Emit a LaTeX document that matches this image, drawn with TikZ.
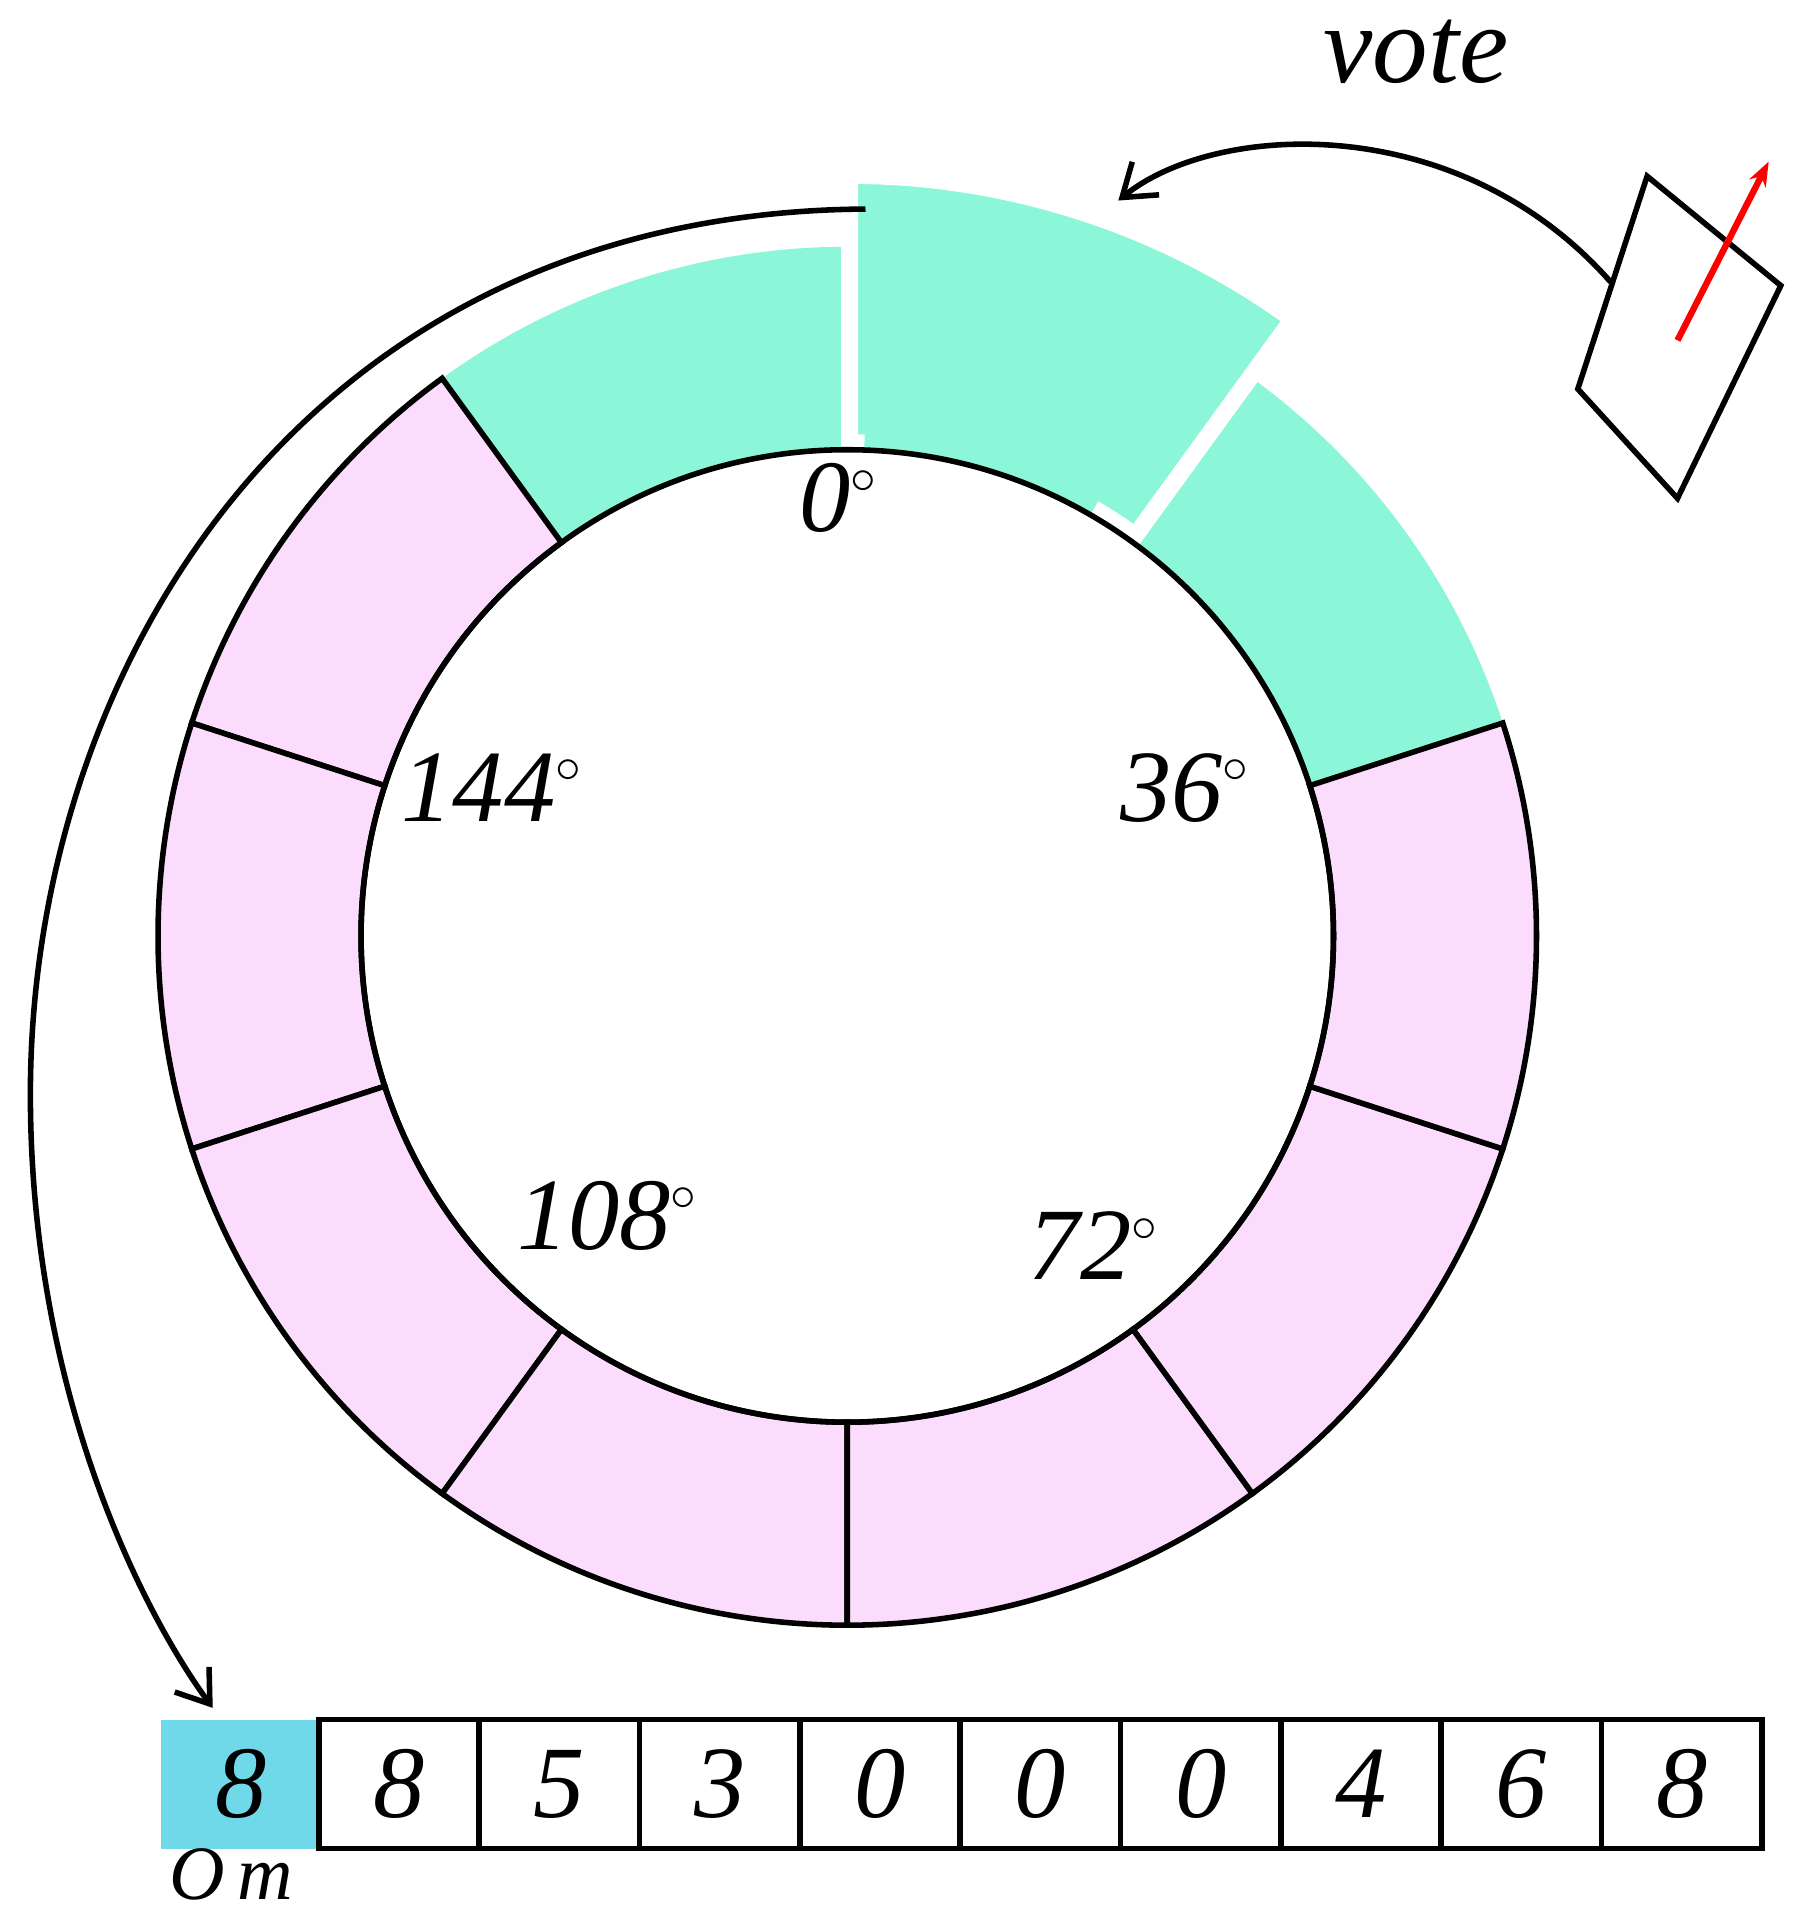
\documentclass[tikz,border=0pt]{standalone}
\usepackage{fontspec}
\setmainfont{Liberation Serif}
\usetikzlibrary{calc,arrows.meta}
\definecolor{gr}{HTML}{8CF7D8}
\definecolor{pk}{HTML}{FCDCFC}
\definecolor{cy}{HTML}{6FD9EA}
\newcommand{\dg}{$^{\scriptscriptstyle\circ}$}
\tikzset{lbl/.style={font=\fontsize{24}{28}\selectfont\itshape,inner sep=0},
  lw/.style={line width=1.3pt},
  cell/.style={draw,lw,minimum width=1.319cm,minimum height=1.06cm,anchor=south west,inner sep=0,font=\fontsize{24}{28}\selectfont\itshape}}
\begin{document}
\begin{tikzpicture}
\useasboundingbox (0,0) rectangle (14.9,15.68);
\coordinate (C) at (6.97,7.98);
\def\ri{4}\def\ro{5.67}
% green
\fill[gr] ($(C)+(90:\ri)$) arc[start angle=90,end angle=126,radius=\ri] -- ($(C)+(126:\ro)$) arc[start angle=126,end angle=90,radius=\ro] -- cycle;
\fill[gr] ($(C)+(18:\ri)$) arc[start angle=18,end angle=54,radius=\ri] -- ($(C)+(54:\ro)$) arc[start angle=54,end angle=18,radius=\ro] -- cycle;
\filldraw[gr,draw=white,line width=0.14cm] ($(C)+(72:0.06)+(54:\ri)$) arc[start angle=54,end angle=90,radius=\ri] -- ($(C)+(72:0.06)+(90:6.2)$) arc[start angle=90,end angle=54,radius=6.2] -- cycle;
\fill[gr] ($(C)+(60:\ri)$) arc[start angle=60,end angle=88,radius=\ri] -- ($(C)+(88:4.2)$) arc[start angle=88,end angle=60,radius=4.2] -- cycle;
% pink
\foreach \k in {1,...,7}{
  \pgfmathsetmacro{\a}{90+36*\k}\pgfmathsetmacro{\b}{126+36*\k}
  \filldraw[fill=pk,draw=black,lw] ($(C)+(\a:\ri)$) arc[start angle=\a,end angle=\b,radius=\ri] -- ($(C)+(\b:\ro)$) arc[start angle=\b,end angle=\a,radius=\ro] -- cycle;}
\draw[lw] (C) circle[radius=\ri];
\node[lbl] (l0) at (6.9,11.58) {0\dg};
\node[lbl] (l36) at (9.75,9.2) {36\dg};
\node[lbl] (l72) at (9.0,5.43) {72\dg};
\node[lbl] (l108) at (5.0,5.68) {108\dg};
\node[lbl] (l144) at (4.05,9.2) {144\dg};
% array
\node[cell,fill=cy,draw=none] (c0) at (1.3,0.45) {8};
\foreach \v [count=\i] in {8,5,3,0,0,0,4,6,8}{
  \node[cell] (c\i) at ({2.6+1.319*(\i-1)},0.45) {\v};}
\node[lbl,font=\fontsize{18}{20}\selectfont\itshape,anchor=south] (om) at (1.9,0.04) {O\,m};
% arrows
\coordinate (s) at (7.12,13.96);
\draw[lw,-{Straight Barb[length=0.25cm,width=0.35cm]}] (s) .. controls (2.5,13.93) and (0.25,10.18) .. (0.25,6.68) .. controls (0.25,4.18) and (1.2,2.38) .. (1.75,1.63);
\node[lbl,font=\fontsize{26}{30}\selectfont\itshape] (vote) at (11.65,15.25) {vote};
\draw[lw,-{Straight Barb[length=0.25cm,width=0.35cm]}] (13.25,13.36) .. controls (12.0,14.78) and (10.0,14.68) .. (9.2,14.03);
\draw[lw] (13.55,14.23) -- (14.65,13.33) -- (13.8,11.58) -- (12.98,12.48) -- cycle;
\draw[red,line width=1.5pt,-{Stealth[length=0.2cm]}] (13.8,12.88) -- (14.55,14.35);
\end{tikzpicture}
\end{document}
